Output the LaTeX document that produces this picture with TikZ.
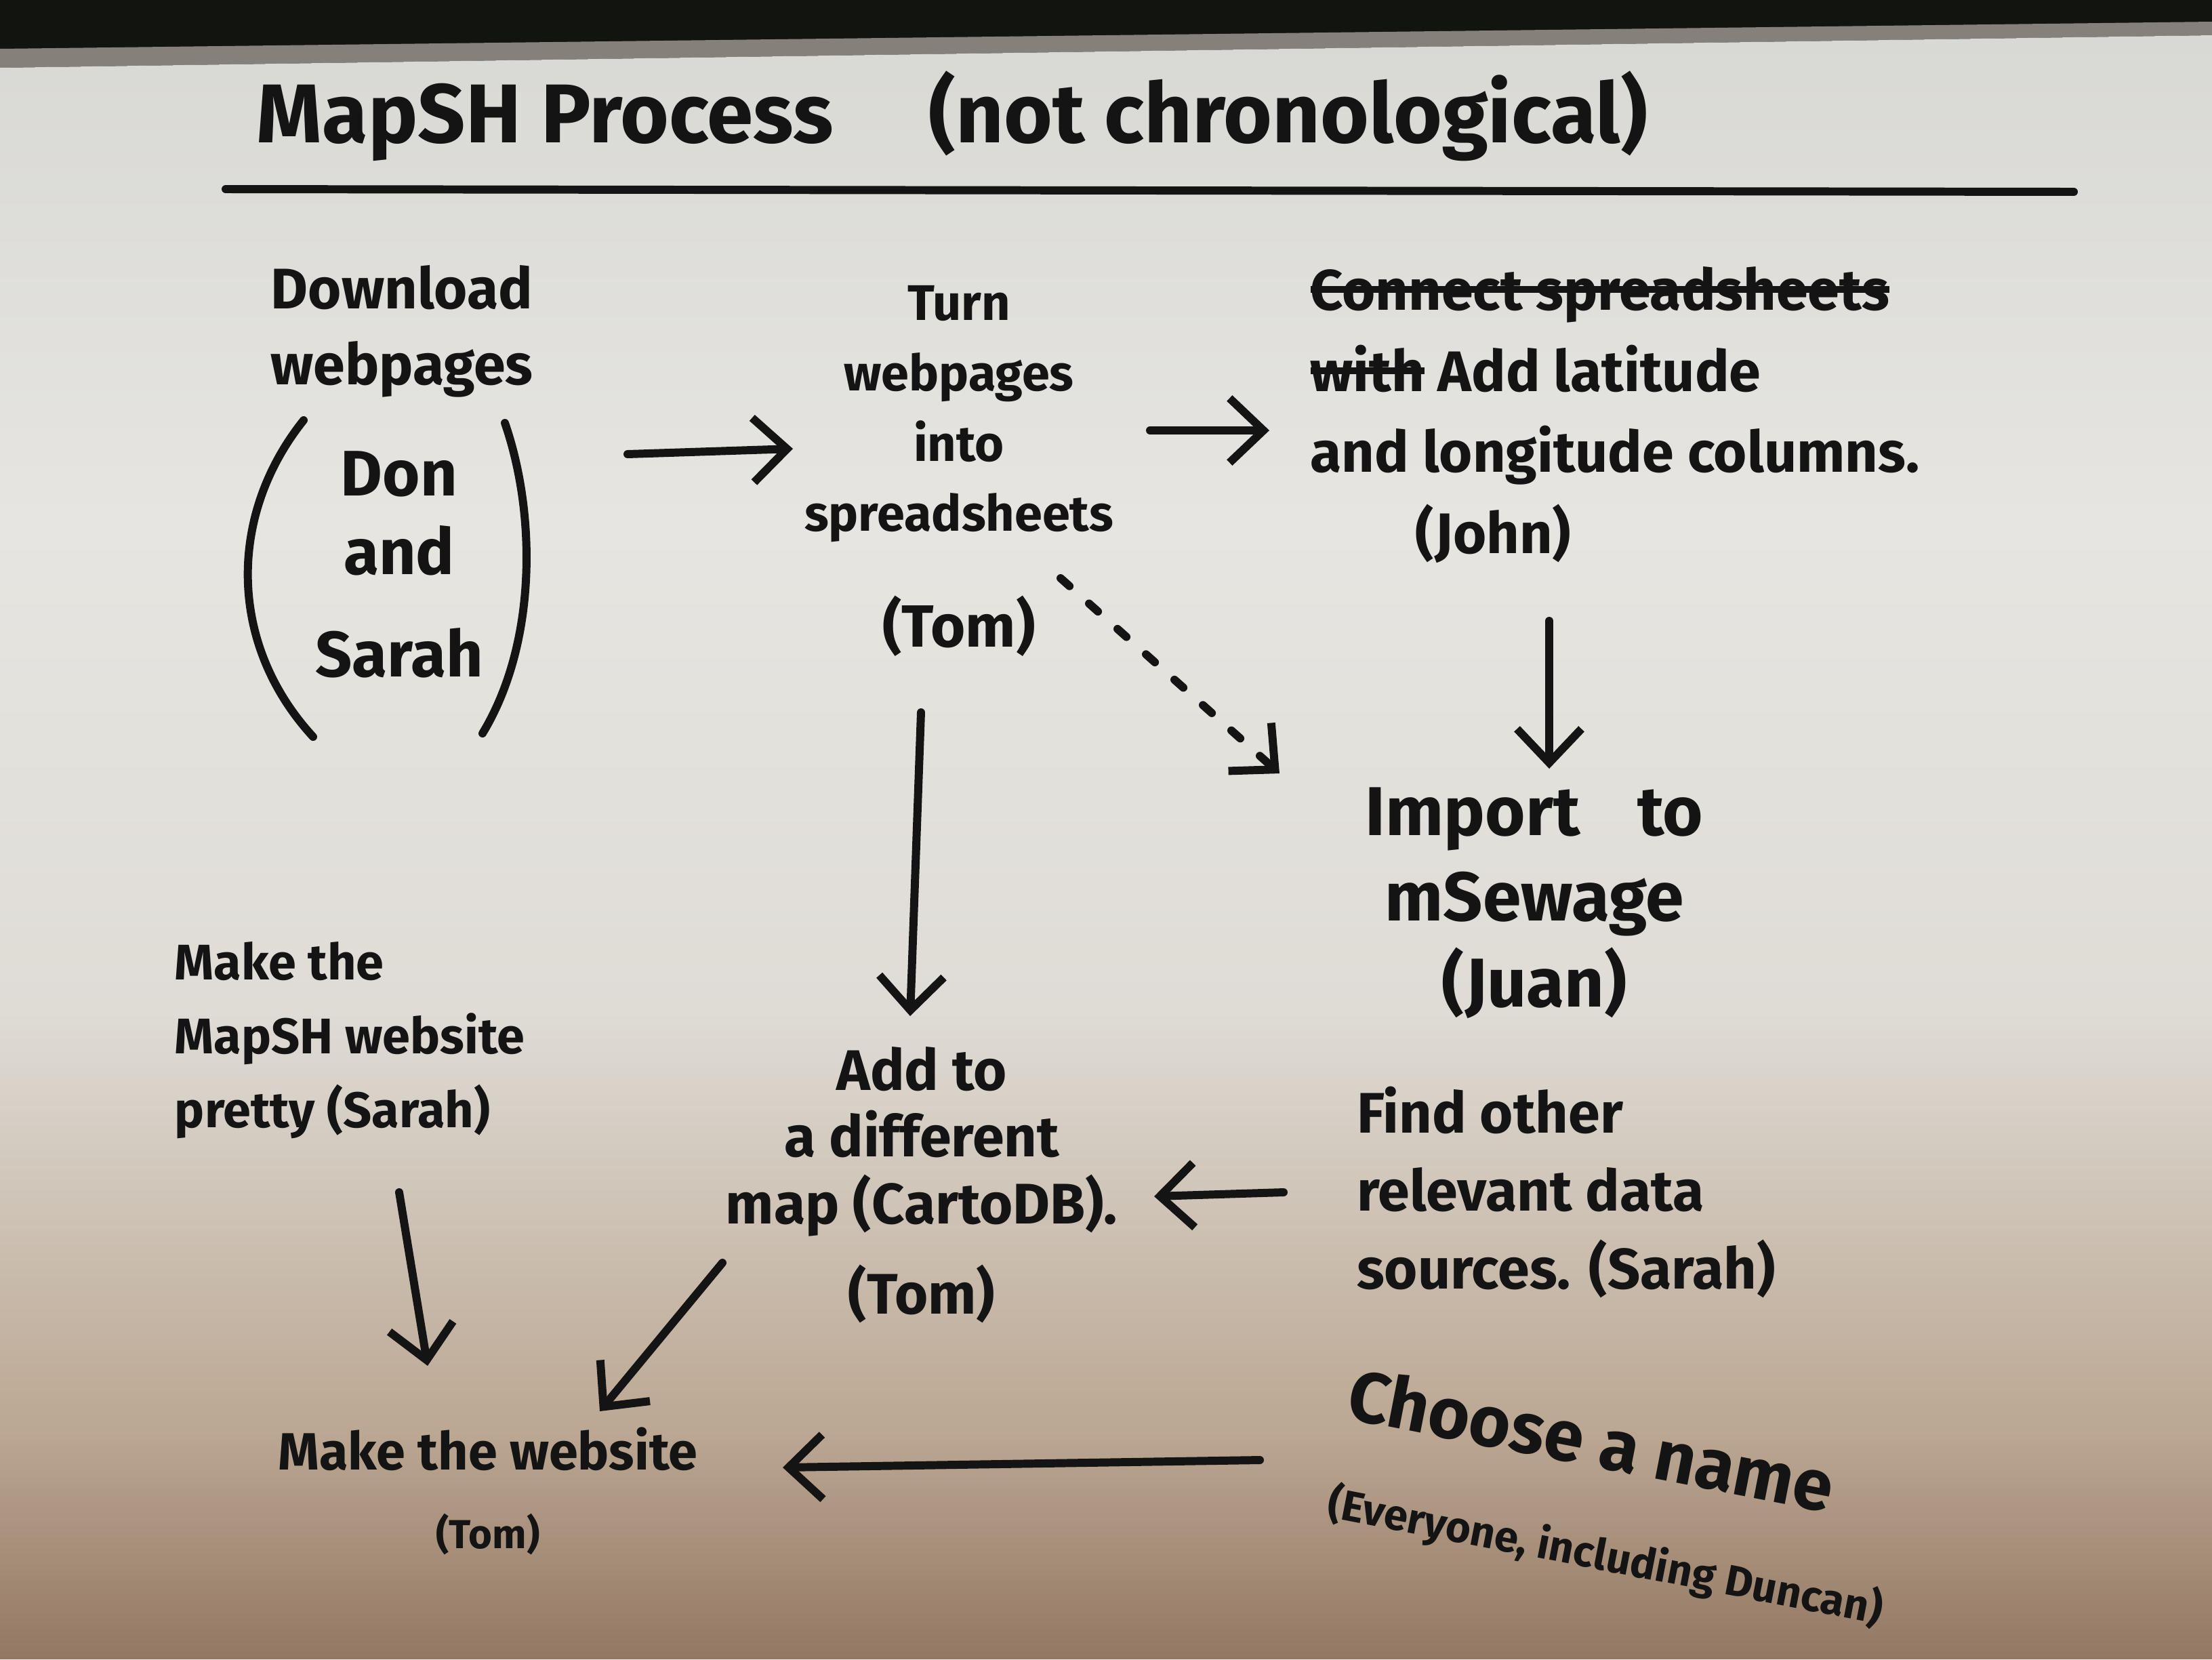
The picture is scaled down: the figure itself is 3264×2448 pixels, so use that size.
\documentclass[tikz,border=0pt]{standalone}
\usepackage{fontspec}
\setmainfont{Fira Sans}
\usetikzlibrary{arrows.meta,calc}
\newcommand\strk[1]{\sbox0{#1}\rlap{\rule[.3em]{\wd0}{2.8pt}}\usebox0}
\definecolor{ink}{HTML}{141414}
\definecolor{papertop}{HTML}{D8D8D4}
\definecolor{paperhigh}{HTML}{E6E5E1}
\definecolor{papermid}{HTML}{DFDCD6}
\definecolor{paperlow}{HTML}{BBA792}
\definecolor{paperbot}{HTML}{937863}
\definecolor{darkband}{HTML}{121410}
\definecolor{edge}{HTML}{85817A}
\pgfdeclareverticalshading{paper}{100bp}{color(0bp)=(paperbot); color(25bp)=(paperbot); color(32bp)=(paperlow); color(45bp)=(papermid); color(60bp)=(paperhigh); color(75bp)=(papertop); color(100bp)=(papertop)}
\begin{document}
\begin{tikzpicture}[x=0.01cm,y=-0.01cm,
  txt/.style={text=ink, inner sep=0pt, align=center, execute at begin node=\bfseries},
  arr/.style={draw=ink, line width=3.4pt, line cap=round, line join=round, -{Straight Barb[length=0.5cm,width=0.95cm]}},
  dotarr/.style={arr, dash pattern=on 5pt off 11pt},
  pen/.style={draw=ink, line width=3.4pt, line cap=round}]
\useasboundingbox (0,0) rectangle (3264,2448);
% background photo of the board
\fill[darkband] (0,0) rectangle (3264,2448);
\fill[edge] (0,72) -- (3264,32) -- (3264,52) -- (0,100) -- cycle;
\shade[shading=paper] (0,100) -- (3264,52) -- (3264,2448) -- (0,2448) -- cycle;

% title
\node[txt, font={\fontsize{35}{40}\selectfont}] (title) at (1405,171)
  {MapSH Process\hspace{40pt}(not chronological)};
\draw[pen] (333,279) -- (3060,283);

% nodes
\node[txt, font={\fontsize{24}{32}\selectfont}] (dl) at (593,489) {Download\\webpages};
\node[txt, font={\fontsize{27}{33}\selectfont}] (don) at (589,833) {Don\\and\\[10pt]Sarah};
\node[txt, font={\fontsize{21}{29.5}\selectfont}] (turn) at (1415,695)
  {Turn\\webpages\\into\\spreadsheets\\[19pt]{\fontsize{25}{30}\selectfont(Tom)}};
\node[txt, align=left, font={\fontsize{24}{34}\selectfont}] (lat) at (2383,612)
  {\strk{Connect spreadsheets}\\\strk{with} Add latitude\\and longitude columns.\\\hspace*{44pt}(John)};
\node[txt, font={\fontsize{29}{36}\selectfont}] (import) at (2264,1332) {Import\hspace{24pt}to\\mSewage\\(Juan)};
\node[txt, font={\fontsize{24}{28}\selectfont}] (addmap) at (1360,1748)
  {Add to\\a different\\map (CartoDB).\\[10pt](Tom)};
\node[txt, align=left, font={\fontsize{24}{32.6}\selectfont}] (find) at (2311,1759)
  {Find other\\relevant data\\sources. (Sarah)};
\node[txt, align=left, font={\fontsize{21}{31}\selectfont}] (pretty) at (516,1535)
  {Make the\\MapSH website\\pretty (Sarah)};
\node[txt, font={\fontsize{22}{33}\selectfont}] (web) at (720,2200)
  {Make the website\\{\fontsize{17}{22}\selectfont(Tom)}};
\node[txt, align=left, rotate=-11, font={\fontsize{30}{42}\selectfont}] (name) at (2385,2212)
  {Choose a name\\{\fontsize{18}{24}\selectfont(Everyone, including Duncan)}};

% parentheses around Don and Sarah
\draw[pen] ($(don)+(-141,-213)$) .. controls ($(don)+(-253,-73)$) and ($(don)+(-253,117)$) .. ($(don)+(-127,254)$);
\draw[pen] ($(don)+(156,-209)$) .. controls ($(don)+(203,-73)$) and ($(don)+(203,117)$) .. ($(don)+(123,249)$);

% connectors
\draw[arr] ($(don)+(337,-163)$) -- ($(turn)+(-245,-33)$);
\draw[arr] ($(turn)+(282,-60)$) -- ($(lat)+(-510,23)$);
\draw[dotarr] ($(turn)+(150,158)$) -- ($(import)+(-376,-191)$);
\draw[arr] ($(lat)+(-97,304)$) -- ($(import)+(22,-198)$);
\draw[arr] ($(turn)+(-56,356)$) -- ($(addmap)+(-17,-249)$);
\draw[arr] ($(find)+(-417,0)$) -- ($(addmap)+(343,17)$);
\draw[arr] ($(addmap)+(-294,115)$) -- ($(web)+(165,-118)$);
\draw[arr] ($(pretty)+(73,224)$) -- ($(web)+(-89,-185)$);
\draw[arr] ($(name)+(-526,-58)$) -- ($(web)+(435,-35)$);
\end{tikzpicture}
\end{document}
